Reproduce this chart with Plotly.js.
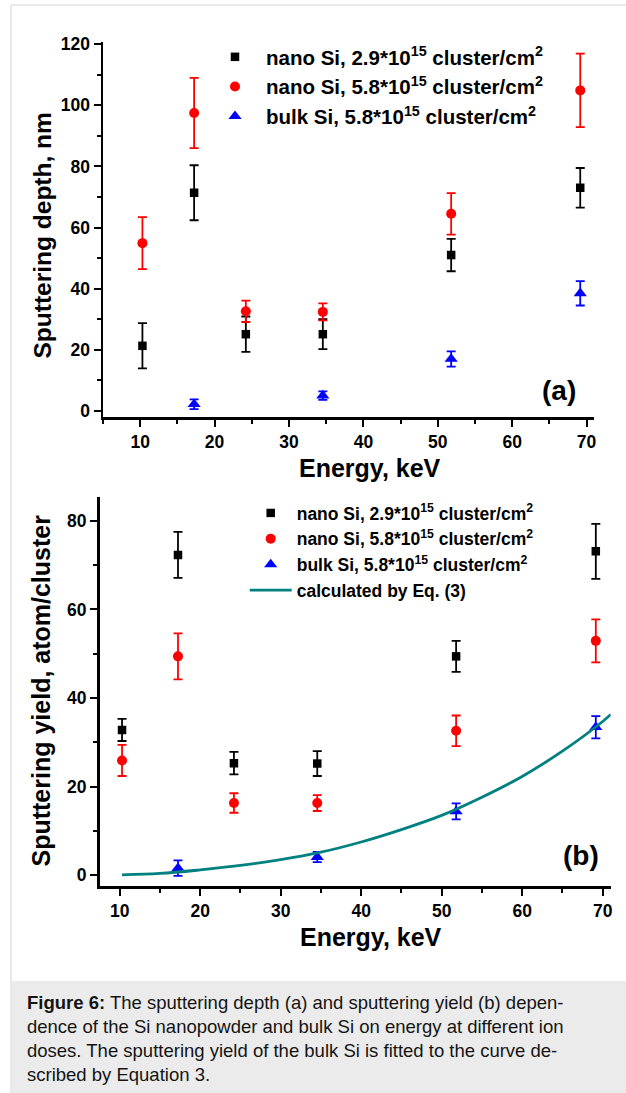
<!DOCTYPE html>
<html>
<head>
<meta charset="utf-8">
<script src="https://cdn.plot.ly/plotly-3.0.1.min.js"></script>
<style>
  html, body { margin: 0; padding: 0; background: #ffffff; }
  #wrap { position: relative; width: 626px; height: 1093px; overflow: hidden; }
  #chart { position: absolute; left: 0; top: 0; width: 626px; height: 1093px; }
  #caption {
    position: absolute; left: 12px; top: 981px; width: 614px; height: 112px;
    background: #ebebeb; z-index: 5;
    font-family: "Liberation Sans", Arial, sans-serif; font-size: 18.5px; line-height: 24px;
    color: #141414; box-sizing: border-box; padding: 10px 0 0 15px; white-space: nowrap;
  }
</style>
</head>
<body>
<div id="wrap">
  <div id="chart"></div>
  <div id="caption"><b>Figure 6:</b> The sputtering depth (a) and sputtering yield (b) depen-<br>dence of the Si nanopowder and bulk Si on energy at different ion<br>doses. The sputtering yield of the bulk Si is fitted to the curve de-<br>scribed by Equation 3.</div>
</div>
<script>
// ---- data ----
const energy = [10.3, 17.25, 24.2, 34.55, 51.8, 69.15];
const energyBulk = [17.25, 34.55, 51.8, 69.15];

// panel (a): sputtering depth, nm
const depthNano29 = [21.3, 71.4, 25.1, 25.1, 51.0, 73.0];
const depthNano29Err = [7.4, 9.0, 5.8, 4.9, 5.3, 6.5];
const depthNano58 = [54.9, 97.5, 32.6, 32.4, 64.5, 104.9];
const depthNano58Err = [8.5, 11.5, 3.5, 2.8, 6.8, 12.0];
const depthBulk = [2.2, 5.0, 17.0, 38.5];
const depthBulkErr = [1.6, 1.4, 2.5, 4.0];

// panel (b): sputtering yield, atom/cluster
const yieldNano29 = [32.8, 72.3, 25.3, 25.2, 49.4, 73.1];
const yieldNano29Err = [2.5, 5.2, 2.55, 2.8, 3.5, 6.2];
const yieldNano58 = [25.9, 49.4, 16.3, 16.3, 32.6, 52.9];
const yieldNano58Err = [3.5, 5.2, 2.2, 1.8, 3.45, 4.85];
const yieldBulk = [1.6, 4.1, 14.4, 33.4];
const yieldBulkErr = [1.75, 1.15, 1.8, 2.5];

// fitted curve (Eq. 3)
const curveE = [10.3, 15, 20, 25, 30, 35, 40, 45, 50, 55, 60, 65, 70, 71];
const curveY = [0.1, 0.4, 1.2, 2.2, 3.5, 5.2, 7.5, 10.3, 13.5, 17.6, 22.3, 28.0, 34.7, 36.3];

const legendNames = [
  'nano Si, 2.9*10<sup>15</sup> cluster/cm<sup>2</sup>',
  'nano Si, 5.8*10<sup>15</sup> cluster/cm<sup>2</sup>',
  'bulk Si, 5.8*10<sup>15</sup> cluster/cm<sup>2</sup>',
  'calculated by Eq. (3)'
];
const xTitle = 'Energy, keV';
const yTitleA = 'Sputtering depth, nm';
const yTitleB = 'Sputtering yield, atom/cluster';

// ---- styling ----
const W = 626, H = 1093;
const FONT = 'Liberation Sans, Arial, sans-serif';
const px = v => v / W;
const py = v => 1 - v / H;
const black = '#000000', red = '#ff0000', blue = '#0000ff', teal = '#008080';

function errBar(arr, color) {
  return {type: 'data', array: arr, visible: true, color: color, thickness: 1.8, width: 4.5};
}
function pts(x, y, err, color, symbol, size, name, xa, ya, leg) {
  return {
    type: 'scatter', mode: 'markers', x: x, y: y, name: name,
    xaxis: xa, yaxis: ya, legend: leg,
    marker: {color: color, symbol: symbol, size: size, line: {width: 0}},
    error_y: errBar(err, color)
  };
}

const traces = [
  pts(energy, depthNano29, depthNano29Err, black, 'square', 8.5, legendNames[0], 'x', 'y', 'legend'),
  pts(energy, depthNano58, depthNano58Err, red, 'circle', 10, legendNames[1], 'x', 'y', 'legend'),
  pts(energyBulk, depthBulk, depthBulkErr, blue, 'triangle-up', 11.5, legendNames[2], 'x', 'y', 'legend'),
  pts(energy, yieldNano29, yieldNano29Err, black, 'square', 8.5, legendNames[0], 'x2', 'y2', 'legend2'),
  pts(energy, yieldNano58, yieldNano58Err, red, 'circle', 10, legendNames[1], 'x2', 'y2', 'legend2'),
  pts(energyBulk, yieldBulk, yieldBulkErr, blue, 'triangle-up', 11.5, legendNames[2], 'x2', 'y2', 'legend2'),
  {type: 'scatter', mode: 'lines', x: curveE, y: curveY, name: legendNames[3],
   xaxis: 'x2', yaxis: 'y2', legend: 'legend2',
   line: {color: teal, width: 2.8, shape: 'spline'}}
];

const tickFont = {family: FONT, size: 17.5, color: black, weight: 'bold'};
function axis(extra) {
  return Object.assign({
    showline: true, linecolor: black, linewidth: 2.5,
    ticks: 'outside', ticklen: 7, tickwidth: 2, tickcolor: black,
    showgrid: false, zeroline: false, tickfont: tickFont, fixedrange: true,
    mirror: false
  }, extra);
}

const layout = {
  width: W, height: H, margin: {l: 0, r: 0, t: 0, b: 0, pad: 0},
  paper_bgcolor: '#ffffff', plot_bgcolor: 'rgba(0,0,0,0)',
  showlegend: true,
  xaxis: axis({domain: [px(103), px(594)], range: [5, 71], dtick: 10, tick0: 0, anchor: 'y',
    minor: {ticks: 'outside', ticklen: 4, tickwidth: 2, tickcolor: black, dtick: 5, tick0: 0}}),
  yaxis: axis({domain: [py(417), py(41.5)], range: [-2, 120.9], dtick: 20, tick0: 0, anchor: 'x',
    minor: {ticks: 'outside', ticklen: 4, tickwidth: 2, tickcolor: black, dtick: 10, tick0: 0}}),
  xaxis2: axis({domain: [px(99.5), px(610.7)], range: [7.5, 71], dtick: 10, tick0: 0, anchor: 'y2',
    minor: {ticks: 'outside', ticklen: 4, tickwidth: 2, tickcolor: black, dtick: 5, tick0: 0}}),
  yaxis2: axis({domain: [py(886.3), py(497.3)], range: [-2.5, 85.3], dtick: 20, tick0: 0, anchor: 'x2',
    minor: {ticks: 'outside', ticklen: 4, tickwidth: 2, tickcolor: black, dtick: 10, tick0: 0}}),
  legend: {x: px(204), y: py(37), xanchor: 'left', yanchor: 'top', bgcolor: 'rgba(0,0,0,0)',
    borderwidth: 0, itemwidth: 52, itemsizing: 'trace', tracegroupgap: 0,
    font: {family: FONT, size: 20.5, color: black, weight: 'bold'}},
  legend2: {x: px(244.7), y: py(495), xanchor: 'left', yanchor: 'top', bgcolor: 'rgba(0,0,0,0)',
    borderwidth: 0, itemwidth: 42, itemsizing: 'trace', tracegroupgap: 0,
    font: {family: FONT, size: 17.5, color: black, weight: 'bold'}},
  annotations: [
    {text: yTitleA, xref: 'paper', yref: 'paper', x: px(42), y: py(235.5), textangle: -90,
     showarrow: false, xanchor: 'center', yanchor: 'middle',
     font: {family: FONT, size: 24.5, color: black, weight: 'bold'}},
    {text: xTitle, xref: 'paper', yref: 'paper', x: px(370), y: py(468),
     showarrow: false, xanchor: 'center', yanchor: 'middle',
     font: {family: FONT, size: 25, color: black, weight: 'bold'}},
    {text: '(a)', xref: 'paper', yref: 'paper', x: px(559), y: py(390),
     showarrow: false, xanchor: 'center', yanchor: 'middle',
     font: {family: FONT, size: 28, color: black, weight: 'bold'}},
    {text: yTitleB, xref: 'paper', yref: 'paper', x: px(40), y: py(690.5), textangle: -90,
     showarrow: false, xanchor: 'center', yanchor: 'middle',
     font: {family: FONT, size: 25, color: black, weight: 'bold'}},
    {text: xTitle, xref: 'paper', yref: 'paper', x: px(371), y: py(937),
     showarrow: false, xanchor: 'center', yanchor: 'middle',
     font: {family: FONT, size: 25, color: black, weight: 'bold'}},
    {text: '(b)', xref: 'paper', yref: 'paper', x: px(581), y: py(855),
     showarrow: false, xanchor: 'center', yanchor: 'middle',
     font: {family: FONT, size: 28, color: black, weight: 'bold'}}
  ],
  shapes: [
    {type: 'line', xref: 'paper', yref: 'paper', x0: px(11), x1: 1, y0: py(5), y1: py(5),
     line: {color: '#e2e2e2', width: 1.5}},
    {type: 'line', xref: 'paper', yref: 'paper', x0: px(11), x1: px(11), y0: py(5), y1: 0,
     line: {color: '#e2e2e2', width: 1.5}}
  ]
};

Plotly.newPlot('chart', traces, layout, {displayModeBar: false, staticPlot: true});
</script>
</body>
</html>
